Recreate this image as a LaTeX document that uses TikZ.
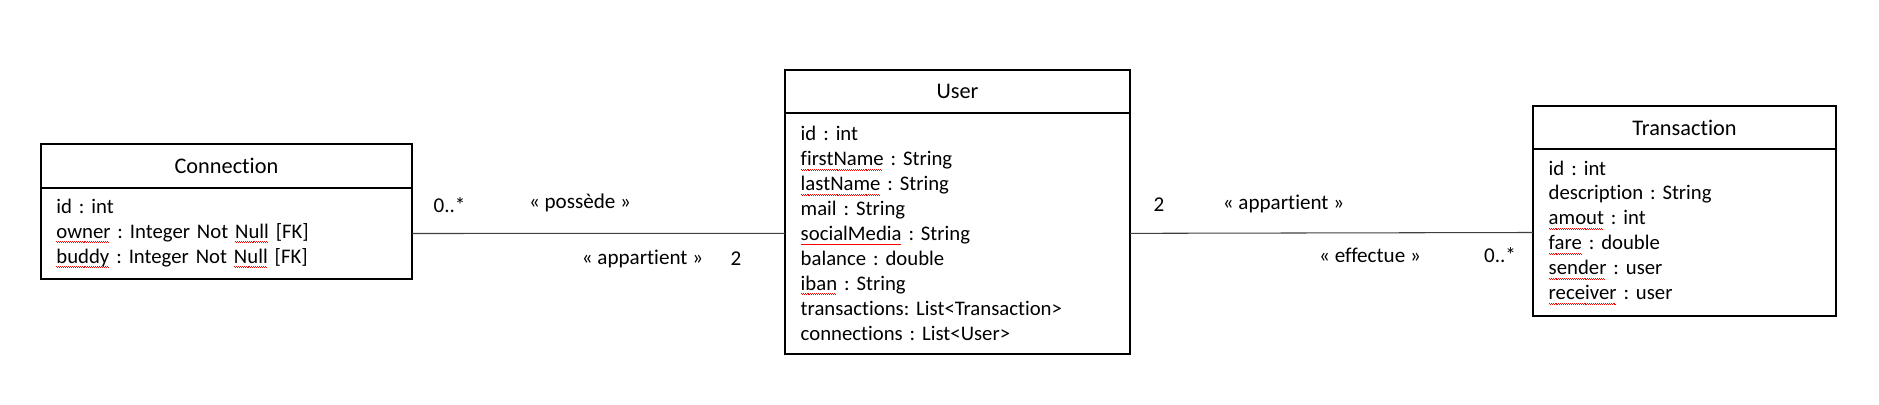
\documentclass[tikz,border=0pt]{standalone}
\usepackage{fontspec}
\setmainfont{Carlito}[Ligatures={NoCommon}]
\usetikzlibrary{positioning}

% red wavy spelling mark
\newsavebox\typobox
\newcommand\typo[1]{\leavevmode\sbox\typobox{#1}\rlap{\textcolor{red}{\leaders\hbox{\rule[-2.1pt]{0.55pt}{0.35pt}\rule[-2.6pt]{0.55pt}{0.35pt}}\hskip\wd\typobox}}#1}

\begin{document}
\frenchspacing
\begin{tikzpicture}[scale=0.2,
  every node/.style={font=\fontsize{12}{14.2}\selectfont},
  classhead/.style={draw, line width=1.1pt, rectangle, inner sep=0pt, outer sep=0pt, font=\fontsize{12.7}{14.2}\selectfont},
  classbody/.style={draw, line width=1.1pt, rectangle, align=left, inner xsep=9pt, inner ysep=0pt, outer sep=0pt, font=\fontsize{11.8}{14.2}\selectfont},
  assoc/.style={draw=black!75, line width=0.6pt},
  tag/.style={inner sep=0pt}]
\useasboundingbox (0,0) rectangle (187.9,-40.5);
% Connection
\node [classhead, anchor=north west, minimum width=7.43cm, minimum height=0.874cm] (connhead) at (4.07,-14.43) {Connection};
\node [classbody, below=0pt of connhead, text width=6.8cm, minimum height=1.82cm] (connbody)
  {id : int\\ \typo{owner} : Integer Not \typo{Null} [FK]\\ \typo{buddy} : Integer Not \typo{Null} [FK]};
% User
\node [classhead, anchor=north west, minimum width=6.9cm, minimum height=0.854cm] (userhead) at (78.5,-7.0) {User};
\node [classbody, below=0pt of userhead, text width=6.27cm, minimum height=4.826cm] (userbody)
  {id : int\\ \typo{firstName} : String\\ \typo{lastName} : String\\ mail : String\\ \typo{socialMedia} : String\\ balance : double\\ \typo{iban} : String\\ transactions: List<Transaction>\\ connections : List<User>};
% Transaction
\node [classhead, anchor=north west, minimum width=6.06cm, minimum height=0.86cm] (transhead) at (153.3,-10.6) {Transaction};
\node [classbody, below=0pt of transhead, text width=5.43cm, minimum height=3.34cm] (transbody)
  {id : int\\ description : String\\ \typo{amout} : int\\ \typo{fare} : double\\ \typo{sender} : user\\ \typo{receiver} : user};
% associations
\draw [assoc] (connbody.east) -- (userbody.west);
\draw [assoc] (userbody.east) -- (transbody.west);
\node [tag] (multconn) at (44.95,-20.5) {0..*};
\node [tag] (possede) at (58.0,-20.3) {« possède »};
\node [tag] (appconn) at (64.25,-25.9) {« appartient »};
\node [tag] (multuserl) at (73.6,-25.9) {2};
\node [tag] (multuserr) at (115.9,-20.5) {2};
\node [tag] (apptrans) at (128.35,-20.4) {« appartient »};
\node [tag] (effectue) at (137.0,-25.5) {« effectue »};
\node [tag] (multtrans) at (150.0,-25.5) {0..*};
\end{tikzpicture}
\end{document}
